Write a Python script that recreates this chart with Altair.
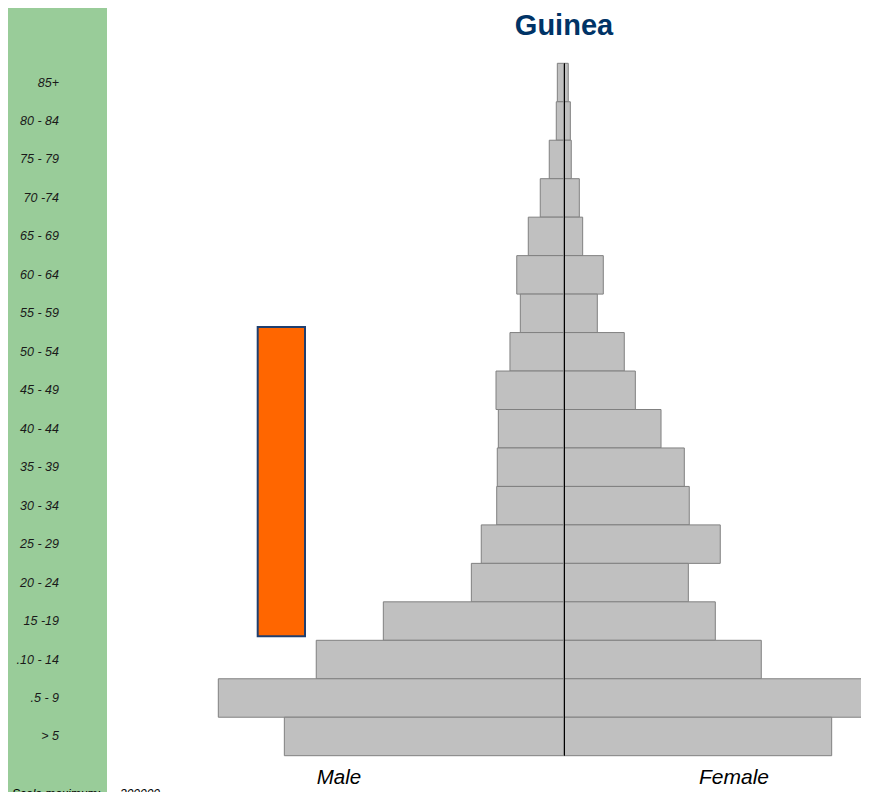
import altair as alt
import pandas as pd

# ---- data ----
ages = ["85+", "80 - 84", "75 - 79", "70 -74", "65 - 69", "60 - 64", "55 - 59",
        "50 - 54", "45 - 49", "40 - 44", "35 - 39", "30 - 34", "25 - 29",
        "20 - 24", "15 -19", ".10 - 14", ".5 - 9", "> 5"]
male = [5800, 6700, 12800, 20600, 31000, 41000, 37900, 46900, 59000, 57000,
        57900, 58400, 71800, 80400, 156800, 215000, 300000, 242700]
female = [3700, 5500, 6300, 13300, 16200, 34100, 28900, 52300, 61900, 84200,
          104400, 108700, 135600, 107900, 131300, 171200, 270000, 232300]
scale_max = 300000
title_text = "Guinea"
sex_labels = ["Male", "Female"]

# ---- layout ----
W, H = 853, 784
center_px = 556
scale_px = 345.7
k = scale_px / scale_max
x_domain = [-center_px / k, (W - center_px) / k]
y_range = [55.3, 747.7]

df = pd.DataFrame({"age": ages, "male": male, "female": female})
df["male_neg"] = -df["male"]

x_scale = alt.Scale(domain=x_domain, range=[0, W], nice=False, zero=False)
y_scale = alt.Scale(domain=ages, range=y_range, paddingInner=0, paddingOuter=0)
one = pd.DataFrame({"a": [0]})

green = alt.Chart(one).mark_rect(color="#99CC99").encode(
    x=alt.value(0), x2=alt.value(99), y=alt.value(0), y2=alt.value(H))

male_bars = alt.Chart(df).mark_bar(
    fill="#C0C0C0", stroke="#808080", strokeWidth=1, clip=True).encode(
    x=alt.X("male_neg:Q", scale=x_scale, axis=None),
    x2=alt.datum(0),
    y=alt.Y("age:N", scale=y_scale, axis=None, sort=ages))

female_bars = alt.Chart(df).mark_bar(
    fill="#C0C0C0", stroke="#808080", strokeWidth=1, clip=True).encode(
    x=alt.X("female:Q", scale=x_scale, axis=None),
    x2=alt.datum(0),
    y=alt.Y("age:N", scale=y_scale, axis=None, sort=ages))

center_line = alt.Chart(one).mark_rule(color="black", strokeWidth=1, xOffset=0.5).encode(
    x=alt.datum(0), y=alt.value(y_range[0]), y2=alt.value(y_range[1]))

age_labels = alt.Chart(df).mark_text(
    align="right", baseline="middle", fontStyle="italic", fontSize=12.5,
    font="Liberation Sans", color="#1a1a1a").encode(
    y=alt.Y("age:N", scale=y_scale, axis=None, sort=ages),
    x=alt.value(51), text="age:N")

orange = alt.Chart(one).mark_rect(
    fill="#FF6600", stroke="#1F3F6F", strokeWidth=2).encode(
    x=alt.value(249.7), x2=alt.value(297), y=alt.value(319), y2=alt.value(628.3))

title = alt.Chart(one).mark_text(
    text=title_text, fontSize=29, fontWeight="bold", font="Liberation Sans",
    color="#003366", align="center", baseline="middle").encode(
    x=alt.datum(0), y=alt.value(18))

male_lbl = alt.Chart(one).mark_text(
    text=sex_labels[0], fontSize=20.5, fontStyle="italic", font="Liberation Sans",
    color="black", align="center", baseline="middle").encode(
    x=alt.value(331), y=alt.value(770))

female_lbl = alt.Chart(one).mark_text(
    text=sex_labels[1], fontSize=21, fontStyle="italic", font="Liberation Sans",
    color="black", align="center", baseline="middle").encode(
    x=alt.value(726), y=alt.value(770))

scale_lbl = alt.Chart(one).mark_text(
    text="Scale maximum:", fontSize=12, fontStyle="italic", font="Liberation Sans",
    color="black", align="left", baseline="alphabetic").encode(
    x=alt.value(4), y=alt.value(790))

scale_val = alt.Chart(one).mark_text(
    text=str(scale_max), fontSize=12, fontStyle="italic", font="Liberation Sans",
    color="black", align="left", baseline="alphabetic").encode(
    x=alt.value(112), y=alt.value(790))

chart = alt.layer(
    green, male_bars, female_bars, center_line, age_labels, orange,
    title, male_lbl, female_lbl, scale_lbl, scale_val
).properties(
    width=W, height=H, padding=0,
    autosize=alt.AutoSizeParams(type="none"),
    background="white"
).configure_view(stroke=None)

chart.save("out.html", embed_options={"renderer": "svg", "actions": False})
